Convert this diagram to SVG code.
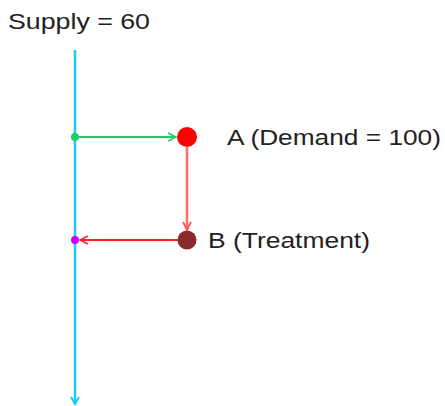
<svg xmlns="http://www.w3.org/2000/svg" width="445" height="406" viewBox="0 0 445 406">
<style>
.lbl{font-family:"Liberation Sans",Arial,sans-serif;font-size:22px;fill:#222}
</style>
<defs>
<marker id="mb" markerWidth="10" markerHeight="10" refX="8" refY="5" orient="auto" markerUnits="userSpaceOnUse"><path d="M1,1 L8,5 L1,9" fill="none" stroke="#1ec8ff" stroke-width="2"/></marker>
<marker id="mg" markerWidth="12" markerHeight="12" refX="10" refY="6" orient="auto" markerUnits="userSpaceOnUse"><path d="M2,2 L10,6 L2,10" fill="none" stroke="#22cc66" stroke-width="1.5"/></marker>
<marker id="mr1" markerWidth="12" markerHeight="12" refX="10" refY="6" orient="auto" markerUnits="userSpaceOnUse"><path d="M2,2 L10,6 L2,10" fill="none" stroke="#ff5555" stroke-width="1.8"/></marker>
<marker id="mr2" markerWidth="12" markerHeight="12" refX="10" refY="6" orient="auto" markerUnits="userSpaceOnUse"><path d="M2,2 L10,6 L2,10" fill="none" stroke="#ff2222" stroke-width="1.5"/></marker>
</defs>
<g id="connectors">
<line x1="75" y1="50" x2="75" y2="404" stroke="#1ec8ff" stroke-width="2.5" marker-end="url(#mb)"/>
<line x1="77" y1="137" x2="176" y2="137" stroke="#22cc66" stroke-width="1.8" marker-end="url(#mg)"/>
<line x1="187" y1="147" x2="187" y2="230" stroke="#ff7070" stroke-width="2.6" marker-end="url(#mr1)"/>
<line x1="178" y1="240" x2="80" y2="240" stroke="#ff2222" stroke-width="1.8" marker-end="url(#mr2)"/>
</g>
<g id="supply"><text class="lbl" x="8" y="29" textLength="142" lengthAdjust="spacingAndGlyphs">Supply = 60</text></g>
<g id="junction1"><circle cx="75" cy="137" r="4" fill="#22cc66"/></g>
<g id="junction2"><circle cx="75" cy="240" r="4" fill="#cc00ff"/></g>
<g id="nodeA"><circle cx="187" cy="137" r="10" fill="#ff0000"/><text class="lbl" x="227" y="145" textLength="214" lengthAdjust="spacingAndGlyphs">A (Demand = 100)</text></g>
<g id="nodeB"><circle cx="187" cy="240" r="9.5" fill="#8b2a2a"/><text class="lbl" x="208" y="248" textLength="162" lengthAdjust="spacingAndGlyphs">B (Treatment)</text></g>
</svg>
